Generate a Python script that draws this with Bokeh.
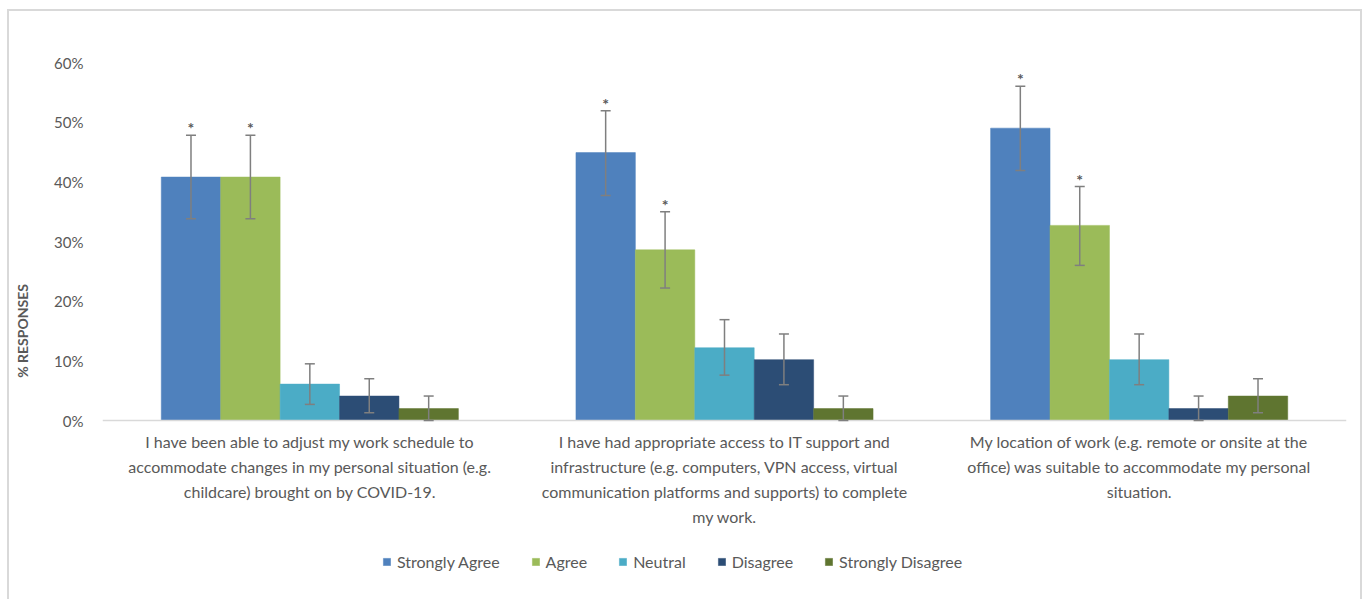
from bokeh.plotting import figure
from bokeh.models import (ColumnDataSource, Whisker, TeeHead, Legend, LegendItem, LinearAxis,
                          FixedTicker, NumeralTickFormatter, Range1d)
from bokeh.core.properties import value
from bokeh.embed import file_html
from bokeh.resources import INLINE

# ---------------- data ----------------
category_lines = [
    ["I have been able to adjust my work schedule to",
     "accommodate changes in my personal situation (e.g.",
     "childcare) brought on by COVID-19."],
    ["I have had appropriate access to IT support and",
     "infrastructure (e.g. computers, VPN access, virtual",
     "communication platforms and supports) to complete",
     "my work."],
    ["My location of work (e.g. remote or onsite at the",
     "office) was suitable to accommodate my personal",
     "situation."],
]
series = ["Strongly Agree", "Agree", "Neutral", "Disagree", "Strongly Disagree"]
colors = ["#4F81BD", "#9BBB59", "#4BACC6", "#2C4D75", "#5F7530"]

strongly_agree    = [0.408, 0.449, 0.490]
agree             = [0.408, 0.286, 0.327]
neutral           = [0.061, 0.122, 0.102]
disagree          = [0.041, 0.102, 0.020]
strongly_disagree = [0.020, 0.020, 0.041]

sa_lower = [0.338, 0.377, 0.419]; sa_upper = [0.478, 0.519, 0.560]
ag_lower = [0.338, 0.222, 0.260]; ag_upper = [0.478, 0.350, 0.392]
ne_lower = [0.027, 0.076, 0.060]; ne_upper = [0.095, 0.169, 0.145]
di_lower = [0.013, 0.060, 0.000]; di_upper = [0.070, 0.145, 0.041]
sd_lower = [0.000, 0.000, 0.013]; sd_upper = [0.041, 0.041, 0.070]

significant = [[1, 1, 1], [1, 1, 1], [0, 0, 0], [0, 0, 0], [0, 0, 0]]

y_ticks = [0, 0.1, 0.2, 0.3, 0.4, 0.5, 0.6]

values = [strongly_agree, agree, neutral, disagree, strongly_disagree]
lowers = [sa_lower, ag_lower, ne_lower, di_lower, sd_lower]
uppers = [sa_upper, ag_upper, ne_upper, di_upper, sd_upper]

# ---------------- layout constants ----------------
FONT = "Lato"
TXT = "#595959"
BAR_W = 0.1433
n_cat = len(category_lines)
cat_pos = [g + 0.5 for g in range(n_cat)]
Y_MIN = -0.3   # room under the zero line for category labels and legend

p = figure(width=None, height=None, frame_width=1244, frame_height=537,
           output_backend="svg", toolbar_location=None,
           x_range=Range1d(0, n_cat), y_range=Range1d(Y_MIN, y_ticks[-1]),
           min_border_left=102, min_border_right=21, min_border_top=62, min_border_bottom=0)
p.outline_line_color = None
p.xgrid.grid_line_color = None
p.ygrid.grid_line_color = None
p.background_fill_color = None
p.border_fill_color = None
g = "linear-gradient(#D9D9D9,#D9D9D9)"
p.styles = {"background": (f"{g} 7px 9px / 2px 100% no-repeat, "
                           f"{g} 7px 9px / 1355px 2px no-repeat, "
                           f"{g} 1360px 9px / 2px 100% no-repeat, white")}

# y axis (only spans 0..60%)
p.yaxis.bounds = (y_ticks[0], y_ticks[-1])
p.yaxis.ticker = FixedTicker(ticks=y_ticks)
p.yaxis.formatter = NumeralTickFormatter(format="0%")
p.yaxis.axis_line_color = None
p.yaxis.major_tick_line_color = None
p.yaxis.minor_tick_line_color = None
p.yaxis.major_tick_out = 0
p.yaxis.major_label_text_font = FONT
p.yaxis.major_label_text_font_size = "15px"
p.yaxis.major_label_text_color = TXT
p.yaxis.major_label_standoff = 19
p.yaxis.axis_label = "% RESPONSES"
p.yaxis.axis_label_text_font = FONT
p.yaxis.axis_label_text_font_size = "14px"
p.yaxis.axis_label_text_font_style = "bold"
p.yaxis.axis_label_text_color = TXT
p.yaxis.axis_label_standoff = 20

# x axes at y = 0: one axis per text line of the category labels
max_lines = max(len(c) for c in category_lines)
x_axes = [p.xaxis[0]]
for j in range(1, max_lines):
    ax = LinearAxis()
    p.add_layout(ax, "below")
    x_axes.append(ax)
for j, ax in enumerate(x_axes):
    ticks = [cat_pos[k] for k in range(n_cat) if len(category_lines[k]) > j]
    ax.fixed_location = 0
    ax.ticker = FixedTicker(ticks=ticks)
    ax.major_label_overrides = {cat_pos[k]: category_lines[k][j]
                                for k in range(n_cat) if len(category_lines[k]) > j}
    ax.axis_line_color = "#D9D9D9" if j == 0 else None
    ax.axis_line_width = 1.5
    ax.major_tick_line_color = None
    ax.minor_tick_line_color = None
    ax.major_tick_out = 0
    ax.major_tick_in = 0
    ax.minor_tick_out = 0
    ax.major_label_text_font = FONT
    ax.major_label_text_font_size = "16px"
    ax.major_label_text_color = TXT
    ax.major_label_standoff = 11 + 25 * j

renderers = []
for i, name in enumerate(series):
    xs = [c + (i - 2) * BAR_W for c in cat_pos]
    src = ColumnDataSource(dict(x=xs, top=values[i], lower=lowers[i], upper=uppers[i]))
    r = p.vbar(x="x", top="top", width=BAR_W, bottom=0, source=src,
               fill_color=colors[i], line_color=colors[i], line_width=0.5)
    renderers.append(r)
    w = Whisker(base="x", upper="upper", lower="lower", source=src, level="overlay",
                line_color="#7F7F7F", line_width=1.5,
                upper_head=TeeHead(size=10, line_color="#7F7F7F", line_width=1.5),
                lower_head=TeeHead(size=10, line_color="#7F7F7F", line_width=1.5))
    p.add_layout(w)
    sx = [xs[k] for k in range(n_cat) if significant[i][k]]
    sy = [uppers[i][k] for k in range(n_cat) if significant[i][k]]
    if sx:
        s2 = ColumnDataSource(dict(x=sx, y=sy, t=["*"] * len(sx)))
        p.text(x="x", y="y", text="t", source=s2, text_align="center",
               text_baseline="bottom", y_offset=2, text_font=value(FONT),
               text_font_size="16px", text_color="#595959", text_font_style="bold")

# legend inside the (extended) frame, under the category labels
legend = Legend(items=[LegendItem(label=series[i], renderers=[renderers[i]]) for i in range(len(series))],
                location=(280, 28), orientation="horizontal",
                border_line_color=None, background_fill_alpha=0, padding=0, margin=0,
                spacing=31, glyph_width=9, glyph_height=9, label_standoff=6, label_height=16,
                label_text_font=FONT, label_text_font_size="16px", label_text_color=TXT)
p.add_layout(legend, "center")

open("out.html", "w").write(file_html(p, INLINE))
